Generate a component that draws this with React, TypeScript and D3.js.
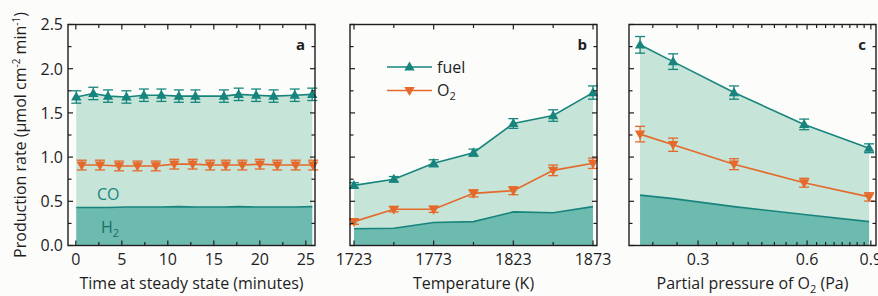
import React from "react";
import * as d3 from "d3";

// ---------- data ----------
const aFuelTime = [0.05, 1.9, 3.5, 5.5, 7.4, 9.3, 11.2, 13.0, 16.1, 17.7, 19.6, 21.5, 23.8, 25.7];
const aFuel = [1.68, 1.72, 1.69, 1.68, 1.7, 1.7, 1.69, 1.69, 1.69, 1.71, 1.7, 1.69, 1.7, 1.71];
const aFuelErr = [0.07, 0.07, 0.07, 0.07, 0.07, 0.07, 0.07, 0.07, 0.07, 0.07, 0.07, 0.07, 0.07, 0.07];
const aO2Time = [0.64, 2.63, 4.7, 6.7, 8.7, 10.7, 12.7, 14.6, 16.3, 18.1, 20.0, 21.9, 23.9, 25.8];
const aO2 = [0.91, 0.91, 0.9, 0.9, 0.9, 0.92, 0.92, 0.91, 0.91, 0.91, 0.92, 0.91, 0.91, 0.91];
const aO2Err = [0.055, 0.055, 0.055, 0.055, 0.055, 0.055, 0.055, 0.055, 0.055, 0.055, 0.055, 0.055, 0.055, 0.055];
const aH2 = [0.43, 0.43, 0.43, 0.435, 0.435, 0.435, 0.44, 0.435, 0.435, 0.44, 0.435, 0.435, 0.435, 0.44];

const bTemp = [1723, 1748, 1773, 1798, 1823, 1848, 1873];
const bFuel = [0.68, 0.75, 0.93, 1.05, 1.38, 1.47, 1.73];
const bFuelErr = [0.03, 0.03, 0.04, 0.04, 0.055, 0.065, 0.075];
const bO2 = [0.27, 0.41, 0.41, 0.59, 0.62, 0.85, 0.93];
const bO2Err = [0.03, 0.03, 0.035, 0.04, 0.045, 0.06, 0.058];
const bH2 = [0.19, 0.195, 0.26, 0.27, 0.38, 0.37, 0.44];

const cPress = [0.2075, 0.256, 0.377, 0.589, 0.89];
const cFuel = [2.27, 2.08, 1.73, 1.37, 1.1];
const cFuelErr = [0.094, 0.088, 0.075, 0.06, 0.05];
const cO2 = [1.26, 1.14, 0.92, 0.71, 0.55];
const cO2Err = [0.088, 0.075, 0.062, 0.05, 0.047];
const cH2 = [0.57, 0.53, 0.44, 0.35, 0.27];

const yMajor = [0, 0.5, 1.0, 1.5, 2.0, 2.5];
const yMinor = [0.25, 0.75, 1.25, 1.75, 2.25];
const yLabels = ["0.0", "0.5", "1.0", "1.5", "2.0", "2.5"];

const aXMajor = [0, 5, 10, 15, 20, 25];
const aXMinor = [2.5, 7.5, 12.5, 17.5, 22.5];
const aXLabels = ["0", "5", "10", "15", "20", "25"];
const bXMajor = [1723, 1773, 1823, 1873];
const bXMinor = [1748, 1798, 1848];
const bXLabels = ["1723", "1773", "1823", "1873"];
const cXMajor = [0.3, 0.6, 0.9];
const cXMinor = [0.225, 0.2625, 0.3375, 0.375, 0.4125, 0.45, 0.4875, 0.525, 0.5625, 0.6375, 0.675, 0.7125, 0.75, 0.7875, 0.825, 0.8625];
const cXLabels = ["0.3", "0.6", "0.9"];

// ---------- style ----------
const W = 878;
const H = 296;
const TOP = 24.5;
const BOT = 245.5;
const TEAL = "#17857d";
const ORANGE = "#e4692b";
const LIGHT = "#c6e4d7";
const DARK = "#6dbaaf";
const FONT = "'Open Sans', sans-serif";
const INK = "#1e1e1e";

const y = d3.scaleLinear().domain([0, 2.5]).range([BOT, TOP]);

function tri(cx: number, cy: number, up: boolean) {
  const w = 5.2;
  const h = 9;
  if (up) return `M${cx},${cy - h * 0.6}L${cx + w},${cy + h * 0.4}L${cx - w},${cy + h * 0.4}Z`;
  return `M${cx},${cy + h * 0.6}L${cx + w},${cy - h * 0.4}L${cx - w},${cy - h * 0.4}Z`;
}

type PanelProps = {
  x: any;
  x0: number;
  x1: number;
  xMajor: number[];
  xMinor: number[];
  xLabels: string[];
  fuelX: number[];
  fuel: number[];
  fuelErr: number[];
  o2X: number[];
  o2: number[];
  o2Err: number[];
  h2: number[];
  letter: string;
  title: React.ReactNode;
  yLab: boolean;
};

function Panel(p: PanelProps) {
  const idx = p.fuelX.map((_, i) => i);
  const areaFuel = d3
    .area<number>()
    .x((i) => p.x(p.fuelX[i]))
    .y0(y(0))
    .y1((i) => y(p.fuel[i]))(idx) as string;
  const areaH2 = d3
    .area<number>()
    .x((i) => p.x(p.fuelX[i]))
    .y0(y(0))
    .y1((i) => y(p.h2[i]))(idx) as string;
  const lineH2 = d3
    .line<number>()
    .x((i) => p.x(p.fuelX[i]))
    .y((i) => y(p.h2[i]))(idx) as string;
  const lineFuel = d3
    .line<number>()
    .x((i) => p.x(p.fuelX[i]))
    .y((i) => y(p.fuel[i]))(idx) as string;
  const oIdx = p.o2X.map((_, i) => i);
  const lineO2 = d3
    .line<number>()
    .x((i) => p.x(p.o2X[i]))
    .y((i) => y(p.o2[i]))(oIdx) as string;
  const cap = 5;
  const errBars = (xs: number[], vs: number[], es: number[], col: string, key: string) =>
    xs.map((xv, i) => {
      const cx = p.x(xv);
      const t = y(vs[i] + es[i]);
      const b = y(vs[i] - es[i]);
      return (
        <g key={key + i} stroke={col} strokeWidth={1.3} fill="none">
          <line x1={cx} x2={cx} y1={t} y2={b} />
          <line x1={cx - cap} x2={cx + cap} y1={t} y2={t} />
          <line x1={cx - cap} x2={cx + cap} y1={b} y2={b} />
        </g>
      );
    });
  const cx = (p.x0 + p.x1) / 2;
  return (
    <g>
      <path d={areaFuel} fill={LIGHT} />
      <path d={areaH2} fill={DARK} />
      <path d={lineH2} fill="none" stroke={TEAL} strokeWidth={1.6} />
      <path d={lineFuel} fill="none" stroke={TEAL} strokeWidth={1.6} />
      <path d={lineO2} fill="none" stroke={ORANGE} strokeWidth={1.6} />
      {errBars(p.fuelX, p.fuel, p.fuelErr, TEAL, "fe")}
      {errBars(p.o2X, p.o2, p.o2Err, ORANGE, "oe")}
      {p.fuelX.map((xv, i) => (
        <path key={"fm" + i} d={tri(p.x(xv), y(p.fuel[i]), true)} fill={TEAL} />
      ))}
      {p.o2X.map((xv, i) => (
        <path key={"om" + i} d={tri(p.x(xv), y(p.o2[i]), false)} fill={ORANGE} />
      ))}
      {/* frame */}
      <rect x={p.x0} y={TOP} width={p.x1 - p.x0} height={BOT - TOP} fill="none" stroke={INK} strokeWidth={1.4} />
      {/* y ticks */}
      {yMajor.map((v) => (
        <g key={"ym" + v} stroke={INK} strokeWidth={1.2}>
          <line x1={p.x0} x2={p.x0 + 5} y1={y(v)} y2={y(v)} />
          <line x1={p.x1} x2={p.x1 - 5} y1={y(v)} y2={y(v)} />
        </g>
      ))}
      {yMinor.map((v) => (
        <g key={"yn" + v} stroke={INK} strokeWidth={1.2}>
          <line x1={p.x0} x2={p.x0 + 3.5} y1={y(v)} y2={y(v)} />
          <line x1={p.x1} x2={p.x1 - 3.5} y1={y(v)} y2={y(v)} />
        </g>
      ))}
      {/* x ticks */}
      {p.xMajor.map((v) => (
        <g key={"xm" + v} stroke={INK} strokeWidth={1.2}>
          <line x1={p.x(v)} x2={p.x(v)} y1={BOT} y2={BOT - 5} />
          <line x1={p.x(v)} x2={p.x(v)} y1={TOP} y2={TOP + 5} />
        </g>
      ))}
      {p.xMinor.map((v) => (
        <g key={"xn" + v} stroke={INK} strokeWidth={1.2}>
          <line x1={p.x(v)} x2={p.x(v)} y1={BOT} y2={BOT - 3.5} />
          <line x1={p.x(v)} x2={p.x(v)} y1={TOP} y2={TOP + 3.5} />
        </g>
      ))}
      {p.xMajor.map((v, i) => (
        <text key={"xl" + v} x={p.x(v)} y={264.5} textAnchor="middle" fontSize={16} fontFamily={FONT} fill={INK}>
          {p.xLabels[i]}
        </text>
      ))}
      {p.yLab &&
        yMajor.map((v, i) => (
          <text key={"yl" + v} x={p.x0 - 5} y={y(v) + 5.8} textAnchor="end" fontSize={16} fontFamily={FONT} fill={INK}>
            {yLabels[i]}
          </text>
        ))}
      <text x={p.x1 - 10} y={50} textAnchor="end" fontSize={15} fontWeight="bold" fontFamily={FONT} fill={INK}>
        {p.letter}
      </text>
      <text x={cx} y={289} textAnchor="middle" fontSize={16} fontFamily={FONT} fill={INK}>
        {p.title}
      </text>
    </g>
  );
}

export default function App() {
  const xa = d3.scaleLinear().domain([-0.85, 26]).range([68, 315]);
  const xb = d3.scaleLinear().domain([1720.5, 1875.5]).range([350, 597]);
  const xc = d3.scaleLog().domain([0.1934, 0.93]).range([629, 876]);
  return (
    <div style={{ position: "fixed", left: 0, top: 0 }}>
      <svg width={W} height={H} viewBox={`0 0 ${W} ${H}`} style={{ display: "block", background: "#fcfcfb" }}>
        <Panel
          x={xa}
          x0={68}
          x1={315}
          xMajor={aXMajor}
          xMinor={aXMinor}
          xLabels={aXLabels}
          fuelX={aFuelTime}
          fuel={aFuel}
          fuelErr={aFuelErr}
          o2X={aO2Time}
          o2={aO2}
          o2Err={aO2Err}
          h2={aH2}
          letter="a"
          title="Time at steady state (minutes)"
          yLab={true}
        />
        <Panel
          x={xb}
          x0={350}
          x1={597}
          xMajor={bXMajor}
          xMinor={bXMinor}
          xLabels={bXLabels}
          fuelX={bTemp}
          fuel={bFuel}
          fuelErr={bFuelErr}
          o2X={bTemp}
          o2={bO2}
          o2Err={bO2Err}
          h2={bH2}
          letter="b"
          title="Temperature (K)"
          yLab={false}
        />
        <Panel
          x={xc}
          x0={629}
          x1={876}
          xMajor={cXMajor}
          xMinor={cXMinor}
          xLabels={cXLabels}
          fuelX={cPress}
          fuel={cFuel}
          fuelErr={cFuelErr}
          o2X={cPress}
          o2={cO2}
          o2Err={cO2Err}
          h2={cH2}
          letter="c"
          title={
            <>
              Partial pressure of O<tspan dy={4} fontSize={11}>2</tspan>
              <tspan dy={-4}> (Pa)</tspan>
            </>
          }
          yLab={false}
        />
        {/* panel a annotations */}
        <text x={97} y={200} fontSize={16} fontFamily={FONT} fill={TEAL}>
          CO
        </text>
        <text x={101} y={233} fontSize={16} fontFamily={FONT} fill="#1c6e67">
          H<tspan dy={4} fontSize={11}>2</tspan>
        </text>
        {/* legend in panel b */}
        <g>
          <line x1={387} x2={432} y1={67} y2={67} stroke={TEAL} strokeWidth={1.6} />
          <path d={tri(409.5, 67, true)} fill={TEAL} />
          <text x={437} y={72.5} fontSize={16} fontFamily={FONT} fill={INK}>
            fuel
          </text>
          <line x1={387} x2={432} y1={90.5} y2={90.5} stroke={ORANGE} strokeWidth={1.6} />
          <path d={tri(409.5, 90.5, false)} fill={ORANGE} />
          <text x={437} y={96} fontSize={16} fontFamily={FONT} fill={INK}>
            O<tspan dy={4} fontSize={11}>2</tspan>
          </text>
        </g>
        {/* y axis title */}
        <text
          transform={`translate(26, ${(TOP + BOT) / 2}) rotate(-90)`}
          textAnchor="middle"
          fontSize={16}
          fontFamily={FONT}
          fill={INK}
        >
          Production rate (µmol cm<tspan dy={-6} fontSize={10}>-2</tspan>
          <tspan dy={6}> min</tspan>
          <tspan dy={-6} fontSize={10}>-1</tspan>
          <tspan dy={6}>)</tspan>
        </text>
      </svg>
    </div>
  );
}
